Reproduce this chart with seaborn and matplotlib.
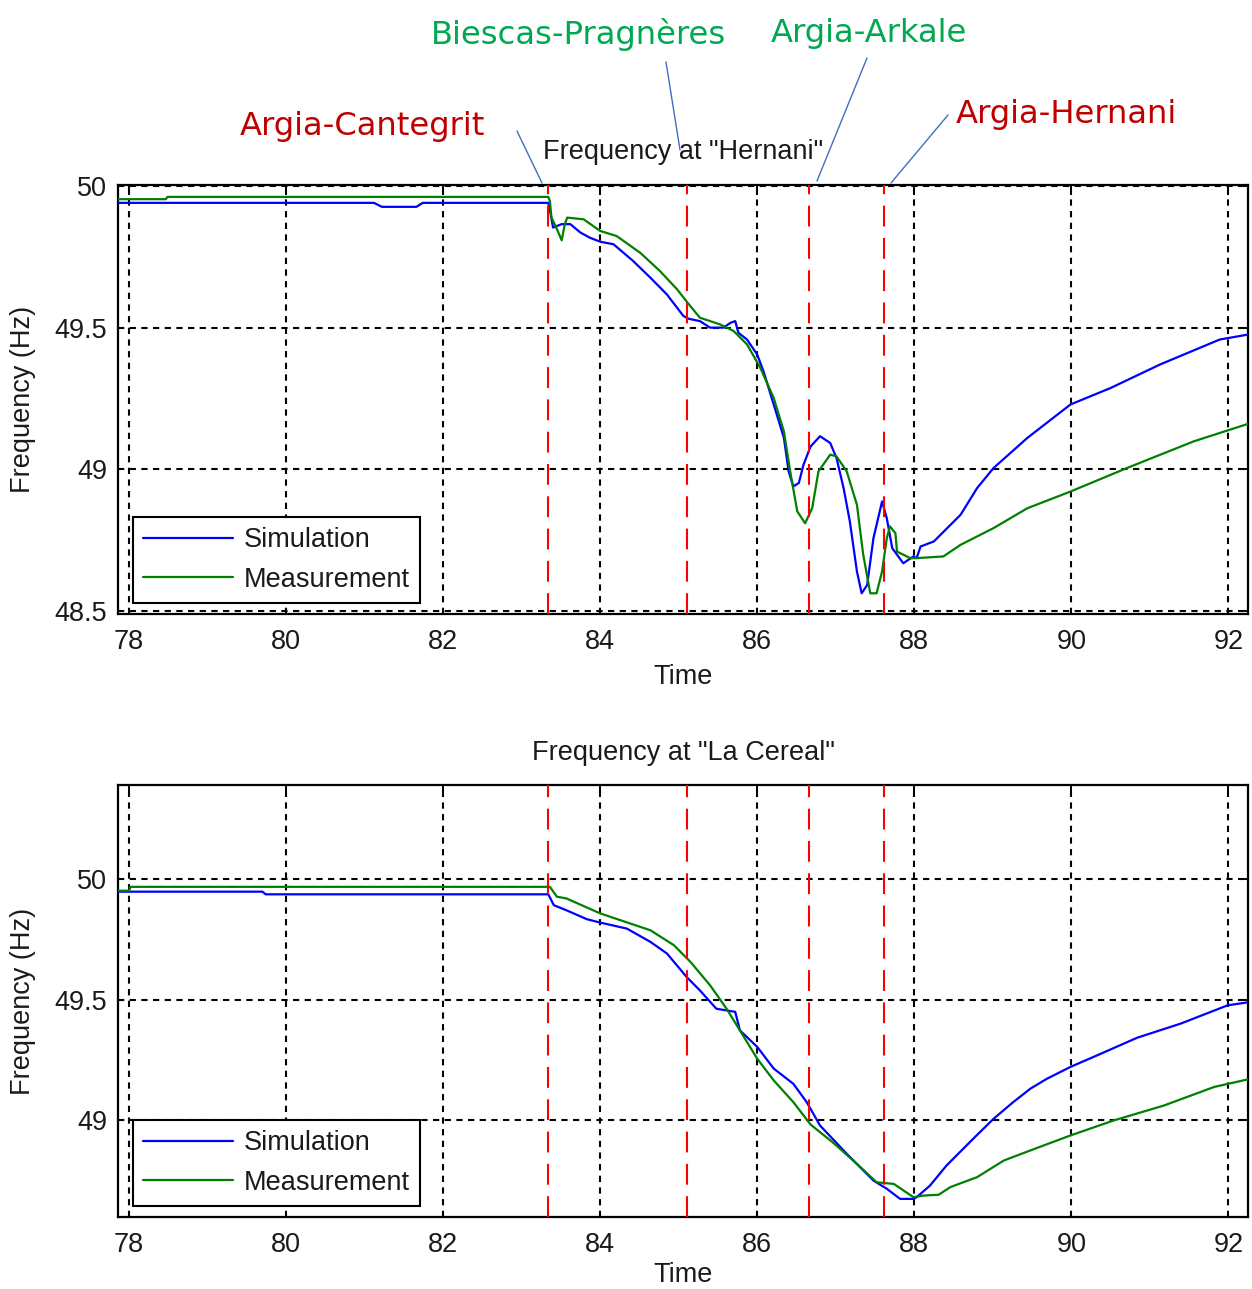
import numpy as np
import pandas as pd
import matplotlib
matplotlib.use("Agg")
import matplotlib.pyplot as plt
from matplotlib.lines import Line2D
from matplotlib.ticker import FuncFormatter
import seaborn as sns

# ---------------------------------------------------------------- data
# Frequency at Hernani substation
hernani_sim_t = [77.86, 81.12, 81.22, 81.66, 81.74, 83.34, 83.37, 83.40, 83.51, 83.62,
                 83.75, 83.87, 84.00, 84.17, 84.42, 84.64, 84.85, 85.06, 85.13, 85.27,
                 85.40, 85.57, 85.66, 85.72, 85.76, 85.87, 86.00, 86.08, 86.21, 86.34,
                 86.40, 86.46, 86.53, 86.59, 86.68, 86.80, 86.93, 87.01, 87.10, 87.18,
                 87.27, 87.33, 87.40, 87.48, 87.59, 87.65, 87.72, 87.86, 87.99, 88.03,
                 88.08, 88.25, 88.59, 88.80, 89.01, 89.44, 89.99, 90.50, 91.13, 91.89,
                 92.30]
hernani_sim_f = [49.940, 49.940, 49.926, 49.926, 49.940, 49.940, 49.900, 49.853, 49.865, 49.865,
                 49.835, 49.817, 49.803, 49.794, 49.735, 49.676, 49.617, 49.541, 49.531, 49.523,
                 49.500, 49.500, 49.517, 49.523, 49.482, 49.458, 49.405, 49.346, 49.229, 49.111,
                 48.993, 48.940, 48.952, 49.017, 49.081, 49.117, 49.093, 49.040, 48.934, 48.816,
                 48.640, 48.563, 48.592, 48.757, 48.887, 48.828, 48.722, 48.669, 48.693, 48.687,
                 48.728, 48.746, 48.840, 48.934, 49.005, 49.111, 49.229, 49.287, 49.370, 49.458,
                 49.478]

hernani_meas_t = [77.86, 78.47, 78.49, 83.34, 83.36, 83.38, 83.45, 83.51, 83.55, 83.58,
                  83.79, 84.00, 84.21, 84.51, 84.76, 84.98, 85.13, 85.27, 85.53, 85.70,
                  85.87, 86.04, 86.21, 86.34, 86.42, 86.51, 86.61, 86.70, 86.78, 86.93,
                  87.01, 87.14, 87.27, 87.35, 87.44, 87.52, 87.59, 87.65, 87.69, 87.76,
                  87.78, 87.95, 88.03, 88.37, 88.59, 89.01, 89.44, 89.99, 90.71, 91.56,
                  92.30]
hernani_meas_f = [49.953, 49.953, 49.961, 49.961, 49.947, 49.888, 49.847, 49.808, 49.865, 49.888,
                  49.882, 49.841, 49.823, 49.764, 49.700, 49.635, 49.582, 49.535, 49.511, 49.488,
                  49.441, 49.358, 49.252, 49.134, 48.993, 48.852, 48.810, 48.863, 48.993, 49.052,
                  49.046, 48.993, 48.875, 48.699, 48.563, 48.563, 48.640, 48.757, 48.799, 48.775,
                  48.710, 48.687, 48.687, 48.693, 48.734, 48.793, 48.863, 48.922, 49.005, 49.099,
                  49.165]

# Frequency at La Cereal substation
cereal_sim_t = [77.86, 79.70, 79.74, 83.34, 83.41, 83.57, 83.83, 84.00, 84.34, 84.64,
                84.85, 85.10, 85.27, 85.48, 85.72, 85.78, 86.00, 86.21, 86.46, 86.63,
                86.80, 87.14, 87.48, 87.65, 87.82, 87.99, 88.03, 88.20, 88.41, 88.75,
                89.01, 89.26, 89.48, 89.69, 89.99, 90.33, 90.84, 91.39, 91.99, 92.30]
cereal_sim_f = [49.948, 49.948, 49.937, 49.937, 49.892, 49.871, 49.834, 49.820, 49.795, 49.740,
                49.692, 49.595, 49.539, 49.463, 49.450, 49.373, 49.305, 49.215, 49.152, 49.076,
                48.979, 48.862, 48.751, 48.717, 48.675, 48.675, 48.682, 48.730, 48.813, 48.924,
                49.007, 49.076, 49.132, 49.173, 49.222, 49.270, 49.343, 49.401, 49.477, 49.492]

cereal_meas_t = [77.86, 78.00, 78.02, 83.36, 83.45, 83.57, 84.00, 84.64, 84.94, 85.15,
                 85.40, 85.61, 85.78, 86.00, 86.21, 86.46, 86.68, 86.97, 87.27, 87.52,
                 87.74, 87.99, 88.12, 88.31, 88.46, 88.80, 89.14, 89.48, 89.99, 90.54,
                 91.18, 91.82, 92.30]
cereal_meas_f = [49.952, 49.952, 49.968, 49.968, 49.927, 49.920, 49.858, 49.788, 49.726, 49.657,
                 49.560, 49.463, 49.373, 49.256, 49.166, 49.076, 48.983, 48.907, 48.820, 48.744,
                 48.737, 48.682, 48.689, 48.692, 48.724, 48.765, 48.834, 48.876, 48.938, 49.000,
                 49.062, 49.139, 49.174]

# Line trips (time in s)
trip_times = [83.34, 85.11, 86.66, 87.62]
trip_names = ["Argia-Cantegrit", "Biescas-Pragnères", "Argia-Arkale", "Argia-Hernani"]
trip_colors = ["#C00000", "#00A850", "#00A850", "#C00000"]

series_names = ["Simulation", "Measurement"]
series_colors = {"Simulation": "#0000FF", "Measurement": "#008000"}

panel_titles = ['Frequency at "Hernani"', 'Frequency at "La Cereal"']
x_ticks = [78, 80, 82, 84, 86, 88, 90, 92]


def frame(sim_t, sim_f, meas_t, meas_f):
    return pd.concat([
        pd.DataFrame({"time": sim_t, "freq": sim_f, "series": "Simulation"}),
        pd.DataFrame({"time": meas_t, "freq": meas_f, "series": "Measurement"}),
    ], ignore_index=True)


panels = [
    frame(hernani_sim_t, hernani_sim_f, hernani_meas_t, hernani_meas_f),
    frame(cereal_sim_t, cereal_sim_f, cereal_meas_t, cereal_meas_f),
]

# ---------------------------------------------------------------- style
sns.set_theme(style="white")
plt.rcParams["font.family"] = ["Liberation Sans", "DejaVu Sans"]
plt.rcParams["font.size"] = 19.5
text_color = "#1a1a1a"
fs = 19.5

W, H = 1252, 1289
fig = plt.figure(figsize=(W / 100, H / 100), dpi=100)
fig.patch.set_facecolor("white")


def fig_xy(x, y):
    return x / W, 1 - y / H


axes_boxes = [(118, 185, 1248, 614), (118, 785, 1248, 1217)]
y_limits = [(48.49, 50.003), (48.60, 50.39)]
y_ticks = [[48.5, 49, 49.5, 50], [49, 49.5, 50]]
title_pads = [19, 18]
xlabel_pads = [6, 3]

for i, (data, box) in enumerate(zip(panels, axes_boxes)):
    l, t, r, b = box
    ax = fig.add_axes([l / W, 1 - b / H, (r - l) / W, (b - t) / H])

    # grid (MATLAB-like short dashes)
    for xv in x_ticks:
        ax.axvline(xv, color="black", lw=1.5, ls=(0, (3, 2.6)), zorder=1)
    for yv in y_ticks[i]:
        ax.axhline(yv, color="black", lw=1.5, ls=(0, (3, 2.6)), zorder=1)

    sns.lineplot(data=data, x="time", y="freq", hue="series", hue_order=series_names,
                 palette=series_colors, estimator=None, sort=False, lw=1.6,
                 legend=False, ax=ax, zorder=3)

    handles = [Line2D([], [], color=series_colors[n], lw=1.6) for n in series_names]
    leg = ax.legend(handles, series_names, loc="lower left",
                    bbox_to_anchor=(0.0133, 0.0256), borderaxespad=0,
                    frameon=True, fancybox=False, framealpha=1, edgecolor="black",
                    fontsize=fs, handlelength=3.3, handletextpad=0.4,
                    labelspacing=0.5, borderpad=0.38, labelcolor=text_color)
    leg.get_frame().set_linewidth(1.5)
    leg.set_zorder(6)

    for tt in trip_times:
        ax.axvline(tt, color="#FF0000", lw=1.5, ls=(0, (10, 5.5)), zorder=4)

    ax.set_xlim(77.86, 92.25)
    ax.set_ylim(*y_limits[i])
    ax.set_xticks(x_ticks)
    ax.set_yticks(y_ticks[i])
    ax.yaxis.set_major_formatter(FuncFormatter(lambda v, _: f"{v:g}"))
    ax.tick_params(direction="in", length=7, width=1.4, top=True, right=True,
                   colors="black", labelcolor=text_color, labelsize=fs)
    ax.tick_params(axis="x", pad=11)
    ax.tick_params(axis="y", pad=8)
    for s in ax.spines.values():
        s.set_color("black")
        s.set_linewidth(1.6)
        s.set_visible(True)
    ax.set_xlabel("Time", fontsize=fs, color=text_color, labelpad=xlabel_pads[i])
    ax.set_ylabel("Frequency (Hz)", fontsize=fs, color=text_color, labelpad=13)
    ax.set_title(panel_titles[i], fontsize=fs, color=text_color, pad=title_pads[i])

# ---------------------------------------------------------------- trip labels
label_pos = [(362, 135), (579, 44), (869, 42), (1066, 123)]
leader_lines = [((517, 131), (542, 183)), ((666, 62), (680, 150)),
                ((867, 58), (817, 181)), ((948, 115), (891, 183))]
for name, color, (lx, ly), (p0, p1) in zip(trip_names, trip_colors, label_pos, leader_lines):
    fx, fy = fig_xy(lx, ly)
    fig.text(fx, fy, name, color=color, fontsize=23.2, ha="center", va="baseline",
             family=["DejaVu Sans"])
    x0, y0 = fig_xy(*p0)
    x1, y1 = fig_xy(*p1)
    fig.add_artist(Line2D([x0, x1], [y0, y1], transform=fig.transFigure,
                          color="#3F6FBF", lw=1.0))

fig.savefig("out.png", dpi=100, facecolor="white")
